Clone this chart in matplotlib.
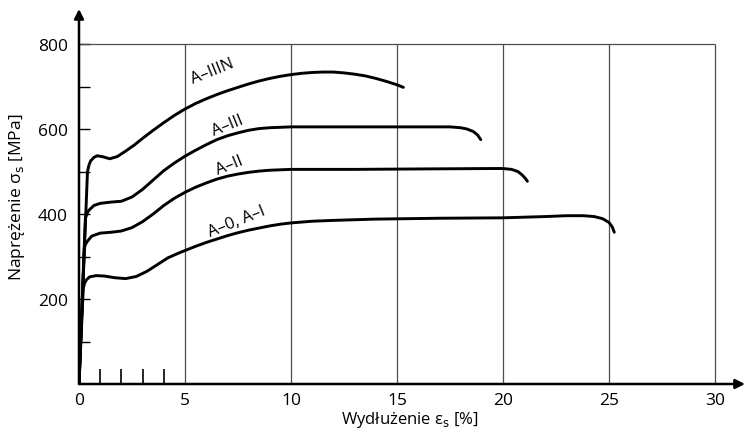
import matplotlib
matplotlib.use("Agg")
import matplotlib.pyplot as plt
from matplotlib.ticker import FixedLocator

plt.rcParams['font.family'] = ['Open Sans', 'DejaVu Sans']
plt.rcParams['mathtext.fontset'] = 'dejavusans'

# strain [%] and stress [MPa]
eps_a0 = [0, 0.2, 0.27, 0.35, 0.5, 0.8, 1.2, 1.7, 2.2, 2.7, 3.2, 3.7, 4.2, 4.7, 5, 5.5, 6, 6.5, 7, 7.5, 8, 8.5, 9, 9.5,
          10, 11, 12, 14, 17, 20, 22, 23, 23.8, 24.3, 24.7, 25.0, 25.15, 25.25]
sig_a0 = [0, 225, 238, 245, 252, 255, 254, 250, 248, 253, 265, 281, 297, 308, 314, 324, 333, 341, 349, 356, 362, 367, 372, 376,
          379, 383, 385, 388, 390, 391, 394, 396, 396, 394, 389, 380, 370, 357]

eps_a2 = [0, 0.25, 0.32, 0.4, 0.6, 1.0, 1.5, 2.0, 2.5, 3.0, 3.5, 4.0, 4.5, 5, 5.5, 6, 6.5, 7, 7.5, 8, 8.5, 9, 9.5,
          10, 13, 16, 19.5, 20, 20.4, 20.7, 20.9, 21.05, 21.15]
sig_a2 = [0, 320, 330, 336, 348, 355, 357, 360, 368, 382, 400, 420, 437, 451, 463, 473, 482, 489, 494, 498, 501, 503, 504,
          505, 505, 506, 507, 507, 505, 500, 492, 484, 477]

eps_a3 = [0, 0.3, 0.37, 0.45, 0.7, 1.0, 1.5, 2.0, 2.5, 3.0, 3.5, 4.0, 4.5, 5, 5.5, 6, 6.5, 7, 7.5, 8, 8.5, 9, 9.5,
          10, 13, 17.5, 18, 18.3, 18.6, 18.8, 18.95]
sig_a3 = [0, 390, 400, 408, 420, 425, 428, 430, 440, 458, 480, 502, 520, 536, 550, 563, 575, 584, 591, 597, 601, 603, 604,
          605, 605, 605, 603, 600, 594, 586, 575]

eps_a3n = [0, 0.4, 0.47, 0.55, 0.7, 0.85, 1.1, 1.45, 1.8, 2.2, 2.6, 3, 3.5, 4, 4.5, 5, 5.5, 6, 6.5, 7, 7.5, 8, 8.5,
           9, 9.5, 10, 10.5, 11, 11.5, 12, 12.5, 13, 13.5, 14, 14.5, 15, 15.3]
sig_a3n = [0, 500, 515, 525, 533, 537, 535, 530, 535, 548, 562, 578, 597, 615, 632, 647, 660, 671, 681, 690, 698, 706, 713,
           719, 724, 728, 731, 733, 734, 734, 732, 729, 725, 719, 712, 704, 698]

curves = [(eps_a0, sig_a0), (eps_a2, sig_a2), (eps_a3, sig_a3), (eps_a3n, sig_a3n)]
labels = ['A–0, A–I', 'A–II', 'A–III', 'A–IIIN']
label_pos = [(7.45, 383), (7.1, 515), (7.0, 609), (6.3, 736)]

fig = plt.figure(figsize=(7.47, 4.35), dpi=100)
ax = fig.add_axes([79 / 747, 50 / 435, 666 / 747, 375 / 435])
ax.set_xlim(0, 666 / 21.2)
ax.set_ylim(0, 375 / 0.425)

for s in ax.spines.values():
    s.set_visible(False)

# grid box
ax.vlines([5, 10, 15, 20, 25, 30], 0, 800, color='0.3', lw=0.9)
ax.hlines(800, 0, 30, color='0.3', lw=0.9)

# axes with arrows
ax.annotate('', xy=(0, 1), xycoords='axes fraction', xytext=(0, 0),
            arrowprops=dict(arrowstyle='-|>', lw=1.8, color='black', mutation_scale=14, shrinkA=0, shrinkB=0))
ax.annotate('', xy=(1, 0), xycoords='axes fraction', xytext=(0, 0),
            arrowprops=dict(arrowstyle='-|>', lw=1.8, color='black', mutation_scale=14, shrinkA=0, shrinkB=0))

for (x, y) in curves:
    ax.plot(x, y, color='black', lw=2.1, solid_capstyle='round', solid_joinstyle='round')

for lab, (x, y) in zip(labels, label_pos):
    ax.text(x, y, lab, fontsize=12, rotation=22, ha='center', va='center', rotation_mode='anchor')

ax.set_xticks([0, 5, 10, 15, 20, 25, 30])
ax.set_xticklabels(['0', '5', '10', '15', '20', '25', '30'])
ax.xaxis.set_minor_locator(FixedLocator([1, 2, 3, 4]))
ax.tick_params(axis='x', which='major', length=0, pad=6, labelsize=12.5)
ax.tick_params(axis='x', which='minor', direction='in', length=11, width=1.2, color='black')

ax.set_yticks([200, 400, 600, 800])
ax.yaxis.set_minor_locator(FixedLocator([100, 300, 500, 700]))
ax.tick_params(axis='y', which='major', direction='in', length=8, width=1.0, pad=8, labelsize=12.5)
ax.tick_params(axis='y', which='minor', direction='in', length=8, width=1.0)

fig.text(410 / 747, 1 - 420 / 435, 'Wydłużenie ε$_\\mathrm{s}$ [%]', fontsize=12, ha='center', va='center')
ax.set_ylabel('Naprężenie σ$_\\mathrm{s}$ [MPa]', fontsize=12.5, labelpad=8)

fig.savefig('out.png', dpi=100)
